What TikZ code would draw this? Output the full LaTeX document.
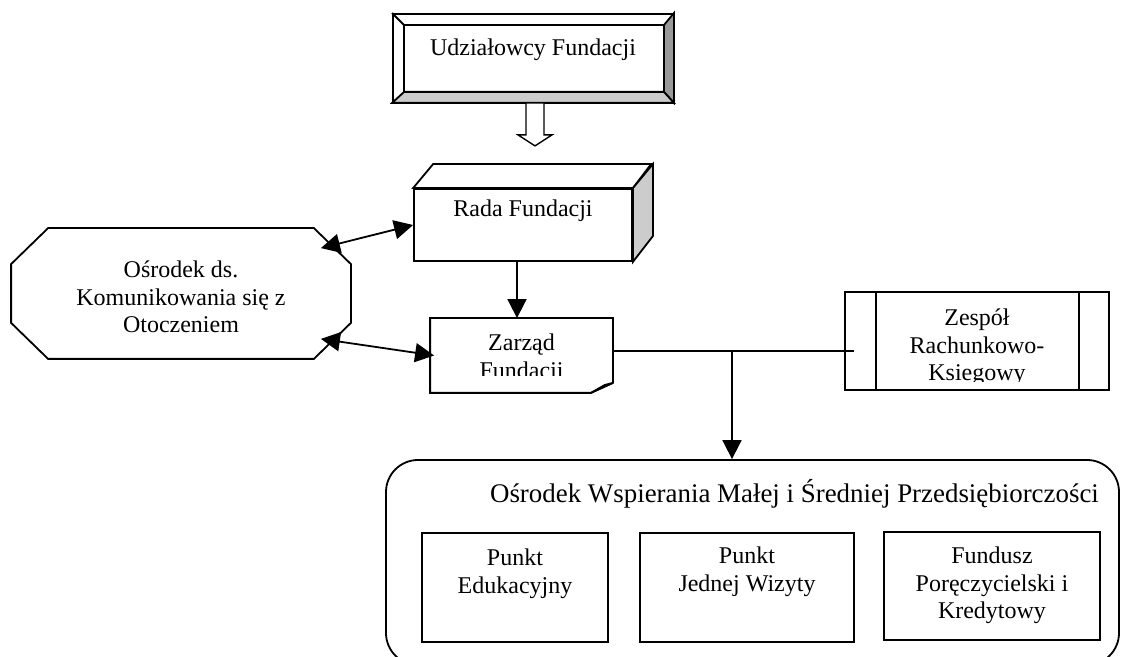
\documentclass[tikz,border=0pt]{standalone}
\usepackage{fontspec}
\setmainfont{Liberation Serif}
\usetikzlibrary{arrows.meta, positioning}

\begin{document}
\begin{tikzpicture}[x=0.5pt, y=-0.5pt, >={Triangle[length=9.5pt,width=9.5pt]},
    line width=0.9pt, font=\fontsize{12pt}{13.8pt}\selectfont]
  \tikzset{
    box/.style={
      draw=black,
      fill=white,
      inner sep=0pt},
    frame/.style={
      inner sep=0pt},
    txt/.style={
      align=center,
      inner sep=0pt}}

  \useasboundingbox (0,0) rectangle (1121,657);

  \node[box, minimum width=140pt, minimum height=44pt] (udz) at (533,58) {};
  \node[box, minimum width=109pt, minimum height=36pt] (rada) at (523,225) {};
  \node[frame, minimum width=90.5pt, minimum height=36.5pt] (zarzad) at (521.5,355.5) {};
  \node[frame, minimum width=169pt, minimum height=64.5pt] (osrodek) at (181,293.5) {};
  \node[box, minimum width=132pt, minimum height=49pt] (zespol) at (977,341) {};

  \node[box, rounded corners=16pt, minimum width=366.5pt, minimum height=102.5pt] (owmsp) at (752.5,562.5) {};
  \node[box, minimum width=93pt, minimum height=54.5pt] (pe) at (515,587.5) {};
  \node[box, minimum width=107pt, minimum height=54.5pt] (pjw) at (747,587.5) {};
  \node[box, minimum width=108pt, minimum height=54pt] (fpk) at (992,586) {};

  % bevelled frame
  \coordinate (udz-a) at ([shift={(12,12)}]udz.north west);
  \coordinate (udz-b) at ([shift={(-10,-11)}]udz.south east);
  \filldraw[fill=black!40] (udz.north east) -- (udz.south east) -- (udz-b) -- (udz-b |- udz-a) -- cycle;
  \filldraw[fill=black!20] (udz.south west) -- (udz.south east) -- (udz-b) -- (udz-a |- udz-b) -- cycle;
  \draw (udz.north west) -- (udz-a);
  \draw (udz-a) rectangle (udz-b);

  % box in perspective
  \draw[fill=white] (rada.north west) -- ++(20,-24) -- ++(218,0) -- (rada.north east) -- cycle;
  \draw[fill=black!20] (rada.north east) -- ++(20,-24) -- ++(0,72) -- (rada.south east) -- cycle;

  % page with folded corner
  \draw (zarzad.south west) -- (zarzad.north west) -- (zarzad.north east) -- ([yshift=5pt]zarzad.south east)
    -- ([xshift=-11pt]zarzad.south east) -- cycle;
  \draw[fill=black!20] ([xshift=-11pt]zarzad.south east) -- ([shift={(-8,-8)}]zarzad.south east)
    -- ([yshift=5pt]zarzad.south east) -- cycle;

  % octagon
  \draw ([xshift=18.5pt]osrodek.north west) -- ([xshift=-18.5pt]osrodek.north east)
    -- ([yshift=-18pt]osrodek.north east) -- ([yshift=18pt]osrodek.south east)
    -- ([xshift=-18.5pt]osrodek.south east) -- ([xshift=18.5pt]osrodek.south west)
    -- ([yshift=18pt]osrodek.south west) -- ([yshift=-18pt]osrodek.north west) -- cycle;

  \draw ([xshift=16pt]zespol.north west) -- ([xshift=16pt]zespol.south west);
  \draw ([xshift=-15.5pt]zespol.north east) -- ([xshift=-15.5pt]zespol.south east);

  % texts
  \node[txt, below=12.5pt of udz.north] (udz-t) {Udziałowcy Fundacji};
  \node[txt, below=5.5pt of rada.north] (rada-t) {Rada Fundacji};
  \node[txt, below=16pt of osrodek.north] (osrodek-t) {Ośrodek ds.\\Komunikowania się z\\Otoczeniem};
  \begin{scope}
    \clip (zarzad.north west) rectangle ([yshift=8.5pt]zarzad.south east);
    \node[txt, below=7.5pt of zarzad.north] (zarzad-t) {Zarząd\\Fundacji};
  \end{scope}
  \begin{scope}
    \clip (zespol.north west) rectangle ([yshift=4.5pt]zespol.south east);
    \node[txt, below=8.5pt of zespol.north] (zespol-t) {Zespół\\Rachunkowo-\\Ksiegowy};
  \end{scope}
  \node[txt, font=\fontsize{13.45pt}{15pt}\selectfont, below=9.5pt of owmsp.north, xshift=21pt] (owmsp-t)
    {Ośrodek Wspierania Małej i Średniej Przedsiębiorczości};
  \node[txt, below=8pt of pe.north] (pe-t) {Punkt\\Edukacyjny};
  \node[txt, below=7pt of pjw.north] (pjw-t) {Punkt\\Jednej Wizyty};
  \node[txt, below=7.5pt of fpk.north] (fpk-t) {Fundusz\\Poręczycielski i\\Kredytowy};

  % connectors
  \draw[fill=white, line width=0.7pt] ([xshift=1pt]udz.south) ++(-9,0) -- ++(0,32) -- ++(-8,0)
    -- ++(17,11) -- ++(17,-11) -- ++(-8,0) -- ++(0,-32) -- cycle;
  \draw[->] ([xshift=-3pt]rada.south) -- ([xshift=-3pt]rada.south |- zarzad.north);

  \coordinate (osr-a) at ([shift={(-30,20)}]osrodek.north east);
  \coordinate (osr-b) at ([shift={(-30,-20)}]osrodek.south east);
  \draw[<->] (osr-a) -- (rada.west);
  \draw[<->] (osr-b) -- ([xshift=2pt]zarzad.west);

  \coordinate (jn) at (732,351);
  \draw (zarzad.east |- jn) -- ([xshift=5pt]zespol.west |- jn);
  \draw[->] (jn) -- (jn |- owmsp.north);

\end{tikzpicture}
\end{document}
